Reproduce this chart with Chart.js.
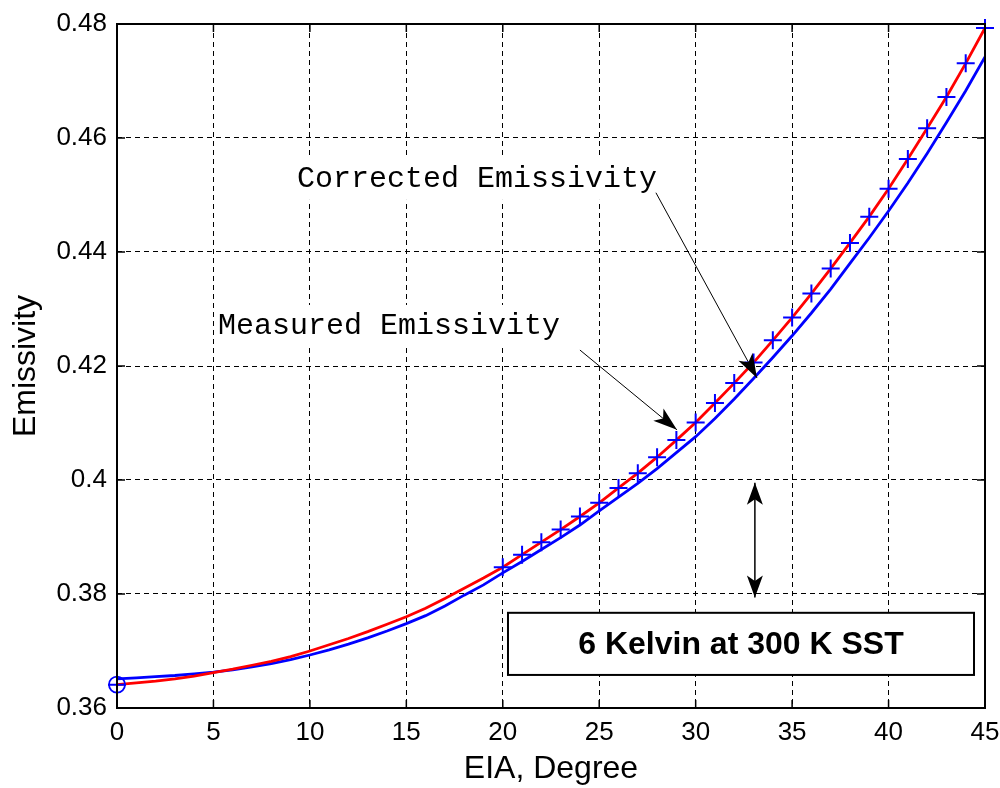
<!DOCTYPE html>
<html><head><meta charset="utf-8">
<script src="https://cdn.jsdelivr.net/npm/chart.js@4.4.1/dist/chart.umd.min.js"></script>
<style>html,body{margin:0;padding:0;background:#fff}#wrap{width:1000px;height:788px}</style>
</head><body><div id="wrap"><canvas id="c" width="1000" height="788"></canvas></div>
<script>
// ---- data ----
const angles = [0,1,2,3,4,5,6,7,8,9,10,11,12,13,14,15,16,17,18,19,20,21,22,23,24,25,26,27,28,29,30,31,32,33,34,35,36,37,38,39,40,41,42,43,44,45];
const correctedEmissivity = [0.3641,0.3644,0.3647,0.3651,0.3656,0.3662,0.3668,0.3675,0.3682,0.3690,0.3700,0.3711,0.3722,0.3734,0.3747,0.3760,0.3775,0.3792,0.3810,0.3828,0.3847,0.3869,0.3891,0.3913,0.3936,0.3960,0.3986,0.4012,0.4040,0.4070,0.4101,0.4135,0.4170,0.4206,0.4245,0.4285,0.4327,0.4371,0.4416,0.4462,0.4511,0.4563,0.4617,0.4672,0.4731,0.4793];
const measuredEmissivity = [0.3651,0.3653,0.3655,0.3657,0.3660,0.3663,0.3667,0.3672,0.3678,0.3685,0.3693,0.3702,0.3712,0.3723,0.3735,0.3748,0.3762,0.3779,0.3798,0.3816,0.3837,0.3857,0.3878,0.3899,0.3921,0.3946,0.3970,0.3994,0.4020,0.4048,0.4076,0.4108,0.4142,0.4178,0.4215,0.4253,0.4293,0.4335,0.4380,0.4425,0.4472,0.4521,0.4573,0.4627,0.4683,0.4742];
const crossMarkerAngles = [0,20,21,22,23,24,25,26,27,28,29,30,31,32,33,34,35,36,37,38,39,40,41,42,43,44,45];
const circleMarkerAngles = [0];
const xTickLabels = ['0','5','10','15','20','25','30','35','40','45'];
const yTickLabels = ['0.36','0.38','0.4','0.42','0.44','0.46','0.48'];

const pts = (xs, ys) => xs.map((a, i) => ({x: a, y: ys[i]}));
const markerPts = xs => xs.map(a => ({x: a, y: correctedEmissivity[angles.indexOf(a)]}));

// ---- annotations (data coordinates) ----
const textNotes = [
  {text: 'Corrected Emissivity', x: 18.66, y: 0.4530, padL: 70, padR: 10},
  {text: 'Measured Emissivity', x: 14.10, y: 0.4272, padL: 2, padR: 10}
];
const arrows = [
  {x1: 27.94, y1: 0.4504, x2: 33.18, y2: 0.4179},
  {x1: 24.00, y1: 0.4228, x2: 29.03, y2: 0.4088}
];
const doubleArrow = {x: 33.07, y1: 0.3995, y2: 0.3794};
const kelvinBox = {text: '6 Kelvin at 300 K SST', x1: 20.27, x2: 44.43, y1: 0.3767, y2: 0.3658};

function arrowHead(ctx, x1, y1, x2, y2, len, half) {
  const a = Math.atan2(y2 - y1, x2 - x1);
  const bx = x2 - len * Math.cos(a), by = y2 - len * Math.sin(a);
  const nx = -Math.sin(a), ny = Math.cos(a);
  const mx = x2 - len * 0.75 * Math.cos(a), my = y2 - len * 0.75 * Math.sin(a);
  ctx.beginPath();
  ctx.moveTo(x2, y2);
  ctx.lineTo(bx + nx * half, by + ny * half);
  ctx.lineTo(mx, my);
  ctx.lineTo(bx - nx * half, by - ny * half);
  ctx.closePath();
  ctx.fill();
}

const annotPlugin = {
  id: 'annot',
  afterDatasetsDraw(chart) {
    const {ctx, scales: {x, y}} = chart;
    const px = v => x.getPixelForValue(v), py = v => y.getPixelForValue(v);
    ctx.save();
    ctx.font = '30px "Liberation Mono", monospace';
    ctx.textBaseline = 'middle';
    ctx.textAlign = 'left';
    textNotes.forEach(n => {
      const w = ctx.measureText(n.text).width;
      const cx = px(n.x), cy = py(n.y);
      ctx.fillStyle = '#fff';
      ctx.fillRect(cx - w / 2 - n.padL, cy - 20, w + n.padL + n.padR, 42);
      ctx.fillStyle = '#000';
      ctx.fillText(n.text, cx - w / 2, cy + 1);
    });
    ctx.strokeStyle = '#000';
    ctx.fillStyle = '#000';
    ctx.lineWidth = 1;
    arrows.forEach(a => {
      const x1 = px(a.x1), y1 = py(a.y1), x2 = px(a.x2), y2 = py(a.y2);
      ctx.beginPath(); ctx.moveTo(x1, y1); ctx.lineTo(x2, y2); ctx.stroke();
      arrowHead(ctx, x1, y1, x2, y2, 24, 8);
    });
    {
      const xx = px(doubleArrow.x), ya = py(doubleArrow.y1), yb = py(doubleArrow.y2);
      ctx.lineWidth = 1.5;
      ctx.beginPath(); ctx.moveTo(xx, ya); ctx.lineTo(xx, yb); ctx.stroke();
      arrowHead(ctx, xx, yb, xx, ya, 22, 8);
      arrowHead(ctx, xx, ya, xx, yb, 22, 8);
    }
    {
      const bx1 = px(kelvinBox.x1), bx2 = px(kelvinBox.x2), by1 = py(kelvinBox.y1), by2 = py(kelvinBox.y2);
      ctx.fillStyle = '#fff';
      ctx.fillRect(bx1, by1, bx2 - bx1, by2 - by1);
      ctx.lineWidth = 2;
      ctx.strokeStyle = '#000';
      ctx.strokeRect(bx1, by1, bx2 - bx1, by2 - by1);
      ctx.fillStyle = '#000';
      ctx.font = 'bold 32px "Liberation Sans", Arial, sans-serif';
      ctx.textAlign = 'center';
      ctx.fillText(kelvinBox.text, (bx1 + bx2) / 2, (by1 + by2) / 2 + 1);
    }
    ctx.restore();
  },
  afterDraw(chart) {
    const {ctx, chartArea: ca, scales: {x, y}} = chart;
    ctx.save();
    ctx.strokeStyle = '#000';
    ctx.lineWidth = 2;
    ctx.strokeRect(ca.left, ca.top, ca.right - ca.left, ca.bottom - ca.top);
    ctx.lineWidth = 1.5;
    const L = 8;
    x.ticks.forEach(t => {
      const p = x.getPixelForValue(t.value);
      ctx.beginPath();
      ctx.moveTo(p, ca.bottom); ctx.lineTo(p, ca.bottom - L);
      ctx.moveTo(p, ca.top); ctx.lineTo(p, ca.top + L);
      ctx.stroke();
    });
    y.ticks.forEach(t => {
      const p = y.getPixelForValue(t.value);
      ctx.beginPath();
      ctx.moveTo(ca.left, p); ctx.lineTo(ca.left + L, p);
      ctx.moveTo(ca.right, p); ctx.lineTo(ca.right - L, p);
      ctx.stroke();
    });
    ctx.restore();
  }
};

const tickFont = {family: '"Liberation Sans", Arial, sans-serif', size: 26};
const titleFont = {family: '"Liberation Sans", Arial, sans-serif', size: 32, lineHeight: 1.2};

new Chart(document.getElementById('c'), {
  type: 'scatter',
  data: {
    datasets: [
      {label: 'Markers', data: markerPts(crossMarkerAngles), showLine: false, pointStyle: 'cross',
       pointRadius: 9, pointBorderColor: '#0000ff', pointBorderWidth: 2, order: 0, clip: false},
      {label: 'Circle', data: markerPts(circleMarkerAngles), showLine: false, pointStyle: 'circle',
       pointRadius: 8, pointBorderColor: '#0000ff', pointBackgroundColor: 'rgba(0,0,0,0)', pointBorderWidth: 1.8, order: 0, clip: false},
      {label: 'Corrected', data: pts(angles, correctedEmissivity), showLine: true, borderColor: '#ff0000',
       borderWidth: 2.8, pointRadius: 0, tension: 0, order: 1},
      {label: 'Measured', data: pts(angles, measuredEmissivity), showLine: true, borderColor: '#0000ff',
       borderWidth: 2.8, pointRadius: 0, tension: 0, order: 2}
    ]
  },
  options: {
    responsive: false,
    animation: false,
    devicePixelRatio: 1,
    layout: {padding: {top: 24, right: 15, left: 0, bottom: 0}},
    plugins: {legend: {display: false}, tooltip: {enabled: false}},
    scales: {
      x: {
        type: 'linear', min: 0, max: 45,
        afterFit: s => { s.height = 80; s.paddingLeft = 0; s.paddingRight = 0; },
        ticks: {stepSize: 5, color: '#000', font: tickFont, padding: 9, maxRotation: 0,
                callback: (v, i) => xTickLabels[i]},
        grid: {color: '#000', lineWidth: 1, drawTicks: false},
        border: {display: false, dash: [5, 4]},
        title: {display: true, text: 'EIA, Degree', color: '#000', font: titleFont, padding: {top: 0, bottom: 0}}
      },
      y: {
        type: 'linear', min: 0.36, max: 0.48,
        afterFit: s => { s.width = 117; s.paddingTop = 0; s.paddingBottom = 0; },
        ticks: {stepSize: 0.02, color: '#000', font: tickFont, padding: 10,
                callback: (v, i) => yTickLabels[i]},
        grid: {color: '#000', lineWidth: 1, drawTicks: false},
        border: {display: false, dash: [5, 4]},
        title: {display: true, text: 'Emissivity', color: '#000', font: titleFont, padding: {top: 7, bottom: 0}}
      }
    }
  },
  plugins: [annotPlugin]
});
</script>
</body></html>
